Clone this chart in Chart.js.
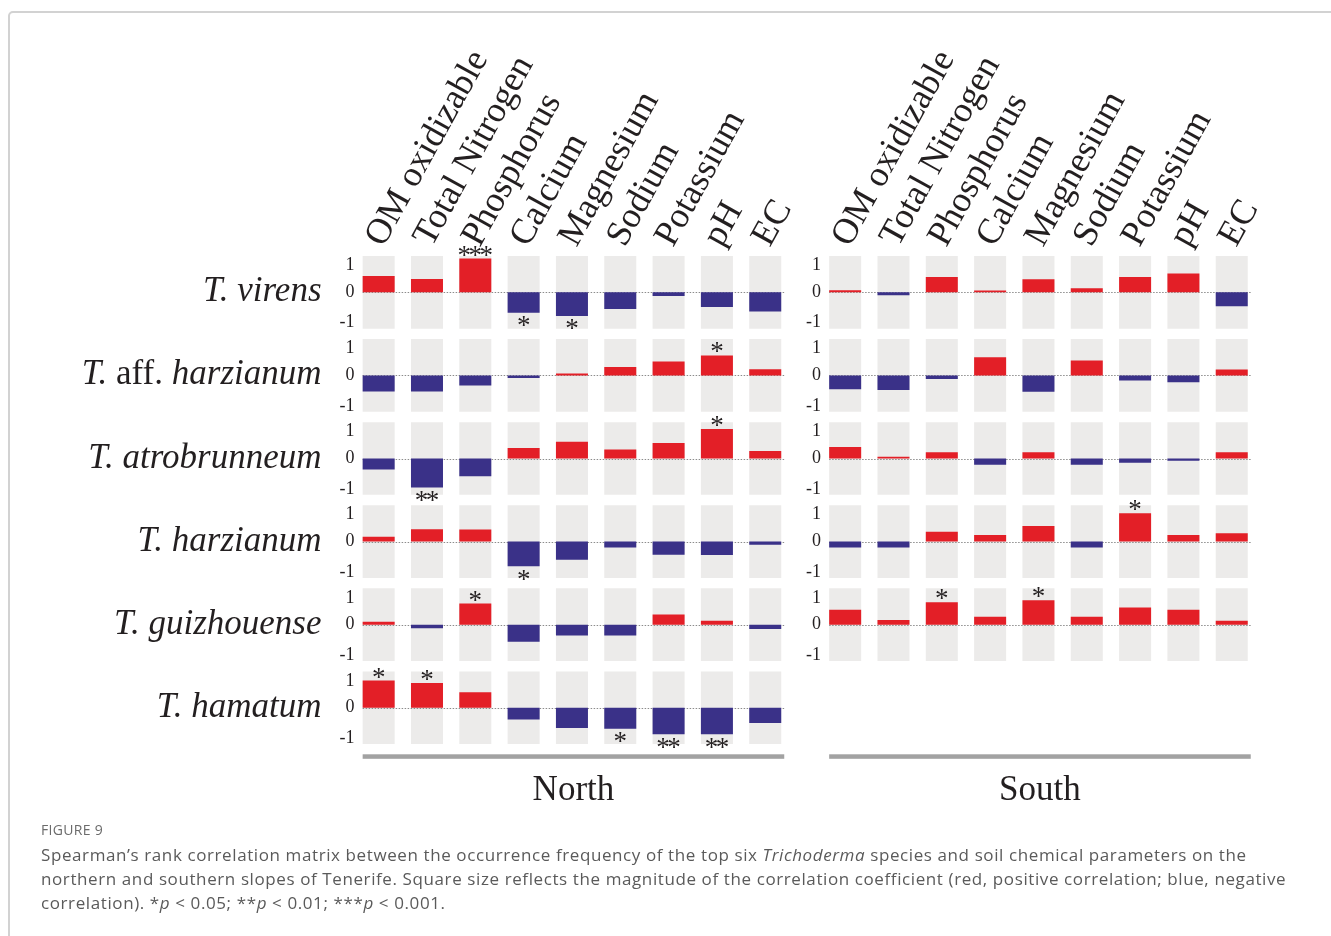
<!DOCTYPE html>
<html>
<head>
<meta charset="utf-8">
<script src="https://cdn.jsdelivr.net/npm/chart.js@4.4.1/dist/chart.umd.min.js"></script>
<style>
body{margin:0;background:#fff;width:1331px;height:936px;overflow:hidden;position:relative;font-family:'Open Sans',sans-serif}
.frame{position:absolute;left:8px;top:11px;width:1350px;height:950px;border:2px solid #d2d2d2;border-radius:5px}
canvas{position:absolute;top:0}
#north{left:0}
#south{left:780px}
.fig{position:absolute;left:41px;top:820px;font-size:14px;color:#6b6b6b;letter-spacing:0.3px}
.cap{position:absolute;left:41px;top:843px;font-size:17px;line-height:24px;color:#5a5a5a;white-space:nowrap;letter-spacing:0.6px}
</style>
</head>
<body>
<div class="frame"></div>
<canvas id="north" width="830" height="850"></canvas>
<canvas id="south" width="520" height="850"></canvas>
<div class="fig">FIGURE 9</div>
<div class="cap">Spearman’s rank correlation matrix between the occurrence frequency of the top six <i>Trichoderma</i> species and soil chemical parameters on the<br>northern and southern slopes of Tenerife. Square size reflects the magnitude of the correlation coefficient (red, positive correlation; blue, negative<br>correlation). *<i>p</i> &lt; 0.05; **<i>p</i> &lt; 0.01; ***<i>p</i> &lt; 0.001.</div>
<script>
// soil parameters (columns)
const params = ['OM oxidizable', 'Total Nitrogen', 'Phosphorus', 'Calcium', 'Magnesium', 'Sodium', 'Potassium', 'pH', 'EC'];
const species = ['T. virens', 'T. aff. harzianum', 'T. atrobrunneum', 'T. harzianum', 'T. guizhouense', 'T. hamatum'];
const tickValues = [-1, 0, 1];
const band = [-1, 1];

// Spearman rho, north slope
const northVirens = [0.45, 0.37, 0.93, -0.56, -0.65, -0.46, -0.10, -0.40, -0.53];
const northAffHarz = [-0.44, -0.44, -0.28, -0.07, 0.05, 0.23, 0.38, 0.55, 0.17];
const northAtro = [-0.30, -0.80, -0.49, 0.29, 0.46, 0.25, 0.43, 0.81, 0.21];
const northHarz = [0.13, 0.34, 0.33, -0.68, -0.50, -0.16, -0.36, -0.37, -0.09];
const northGuiz = [0.08, -0.10, 0.58, -0.47, -0.30, -0.30, 0.28, 0.11, -0.12];
const northHam = [0.75, 0.68, 0.43, -0.32, -0.56, -0.58, -0.73, -0.73, -0.42];

const northVirensSig = ['', '', '***', '*', '*', '', '', '', ''];
const northAffHarzSig = ['', '', '', '', '', '', '', '*', ''];
const northAtroSig = ['', '**', '', '', '', '', '', '*', ''];
const northHarzSig = ['', '', '', '*', '', '', '', '', ''];
const northGuizSig = ['', '', '*', '', '', '', '', '', ''];
const northHamSig = ['*', '*', '', '', '', '*', '**', '**', ''];

// south slope (no T. hamatum)
const southVirens = [0.06, -0.08, 0.42, 0.05, 0.36, 0.11, 0.42, 0.52, -0.38];
const southAffHarz = [-0.38, -0.40, -0.10, 0.50, -0.45, 0.41, -0.14, -0.19, 0.16];
const southAtro = [0.32, 0.05, 0.17, -0.17, 0.17, -0.17, -0.12, -0.06, 0.17];
const southHarz = [-0.16, -0.16, 0.27, 0.18, 0.43, -0.16, 0.78, 0.18, 0.23];
const southGuiz = [0.41, 0.13, 0.62, 0.22, 0.67, 0.22, 0.47, 0.41, 0.11];

const southVirensSig = ['', '', '', '', '', '', '', '', ''];
const southAffHarzSig = ['', '', '', '', '', '', '', '', ''];
const southAtroSig = ['', '', '', '', '', '', '', '', ''];
const southHarzSig = ['', '', '', '', '', '', '*', '', ''];
const southGuizSig = ['', '', '*', '', '*', '', '', '', ''];

const RED = '#e31f27';
const BLUE = '#3a3188';
const GRAY = '#ecebea';
const INK = '#231f20';
const SERIF = '"Liberation Serif", "Times New Roman", serif';
const RANGE = 1.143;

function drawName(ctx, name, xRight, y) {
  const words = name.split(' ');
  const parts = words.map((w, i) => ({t: i < words.length - 1 ? w + ' ' : w, it: w !== 'aff.'}));
  let total = 0;
  parts.forEach(p => {
    ctx.font = (p.it ? 'italic ' : '') + '35px ' + SERIF;
    p.w = ctx.measureText(p.t).width;
    total += p.w;
  });
  let x = xRight - total;
  parts.forEach(p => {
    ctx.font = (p.it ? 'italic ' : '') + '35px ' + SERIF;
    ctx.fillText(p.t, x, y);
    x += p.w;
  });
}

const deco = {
  id: 'deco',
  afterDatasetDraw(chart, args) {
    const ds = chart.data.datasets[args.index];
    if (!ds.isBand) return;
    const ctx = chart.ctx;
    const els = args.meta.data;
    const first = els[0], last = els[els.length - 1];
    const y = Math.round(chart.scales[ds.yAxisID].getPixelForValue(0)) + 0.5;
    ctx.save();
    ctx.strokeStyle = '#8c8c8c';
    ctx.lineWidth = 1;
    ctx.setLineDash([1.5, 1.5]);
    ctx.beginPath();
    ctx.moveTo(first.x - first.width / 2, y);
    ctx.lineTo(last.x + last.width / 2 + 3, y);
    ctx.stroke();
    ctx.restore();
  },
  afterDraw(chart) {
    const ctx = chart.ctx;
    const o = chart.options.plugins.deco;
    const area = chart.chartArea;
    ctx.save();
    ctx.fillStyle = INK;
    // significance stars, one glyph at a time
    ctx.font = '27px ' + SERIF;
    ctx.textAlign = 'center';
    ctx.textBaseline = 'alphabetic';
    const m = ctx.measureText('*');
    const mid = (m.actualBoundingBoxAscent - m.actualBoundingBoxDescent) / 2;
    chart.data.datasets.forEach((ds, di) => {
      if (ds.isBand || !ds.sig) return;
      const els = chart.getDatasetMeta(di).data;
      ds.sig.forEach((s, i) => {
        if (!s) return;
        const el = els[i];
        const c = ds.data[i] >= 0 ? el.y - 7.5 : el.y + 9;
        for (let k = 0; k < s.length; k++) {
          ctx.fillText('*', el.x + (k - (s.length - 1) / 2) * 11, c + mid);
        }
      });
    });
    // species names
    if (o.names) {
      ctx.textAlign = 'left';
      o.names.forEach((n, r) => {
        const y0 = chart.scales['r' + r].getPixelForValue(0);
        drawName(ctx, n, area.left - 33, y0 + 9);
      });
    }
    // panel rule and title
    const els = chart.getDatasetMeta(0).data;
    const x0 = els[0].x - els[0].width / 2;
    const x1 = els[els.length - 1].x + els[els.length - 1].width / 2 + 3;
    ctx.fillStyle = '#a2a2a2';
    ctx.fillRect(x0, area.bottom + 5, x1 - x0, 4.5);
    ctx.fillStyle = INK;
    ctx.font = '35px ' + SERIF;
    ctx.textAlign = 'center';
    ctx.fillText(o.title, (x0 + x1) / 2, area.bottom + 51);
    ctx.restore();
  }
};

function rowAxis(r, show, axisW) {
  return {
    type: 'linear', position: 'left', stack: 'rows', stackWeight: 1, weight: 10 - r,
    min: -RANGE, max: RANGE,
    grid: {display: false, drawTicks: false},
    border: {display: false},
    afterBuildTicks: s => { s.ticks = tickValues.map(v => ({value: v})); },
    afterFit: s => { s.width = axisW; },
    ticks: {
      display: show, padding: 0, color: INK, autoSkip: false,
      callback: v => v === 1 ? ['', '1'] : v === -1 ? ['-1', ''] : String(v),
      font: c => ({family: SERIF, size: 18,
        lineHeight: c.tick && c.tick.value === 1 ? '19px' : c.tick && c.tick.value === -1 ? '12px' : 1.2})
    }
  };
}

function makeChart(id, rows, sigs, opts) {
  const datasets = [];
  const scales = {
    x: {
      type: 'category', position: 'top', offset: true,
      grid: {display: false, drawTicks: false},
      border: {display: false},
      ticks: {autoSkip: false, minRotation: 61, maxRotation: 61, padding: -3, labelOffset: 34, color: INK,
        font: {family: SERIF, size: 36}},
      afterFit: s => { s.height = 230.8; s.paddingLeft = 0; s.paddingRight = 0; }
    }
  };
  for (let r = 0; r < 6; r++) {
    scales['r' + r] = rowAxis(r, r < rows.length, opts.axisW);
  }
  rows.forEach((vals, r) => {
    datasets.push({
      isBand: true, data: params.map(() => band), yAxisID: 'r' + r,
      backgroundColor: GRAY, order: 2, grouped: false,
      barPercentage: 0.6625, categoryPercentage: 1
    });
    datasets.push({
      data: vals, sig: sigs[r], yAxisID: 'r' + r,
      backgroundColor: c => c.raw >= 0 ? RED : BLUE, order: 1, grouped: false,
      barPercentage: 0.6625, categoryPercentage: 1
    });
  });
  return new Chart(document.getElementById(id), {
    type: 'bar',
    data: {labels: params, datasets: datasets},
    options: {
      responsive: false, animation: false,
      layout: {padding: opts.padding},
      plugins: {legend: {display: false}, tooltip: {enabled: false},
        deco: {names: opts.names, title: opts.title}},
      scales: scales
    },
    plugins: [deco]
  });
}

makeChart('north',
  [northVirens, northAffHarz, northAtro, northHarz, northGuiz, northHam],
  [northVirensSig, northAffHarzSig, northAtroSig, northHarzSig, northGuizSig, northHamSig],
  {axisW: 44.5, names: species, title: 'North',
   padding: {left: 310, right: 40.6, top: 20, bottom: 100.7}});

makeChart('south',
  [southVirens, southAffHarz, southAtro, southHarz, southGuiz],
  [southVirensSig, southAffHarzSig, southAtroSig, southHarzSig, southGuizSig],
  {axisW: 41, names: null, title: 'South',
   padding: {left: 0, right: 44.1, top: 20, bottom: 100.7}});
</script>
</body>
</html>
